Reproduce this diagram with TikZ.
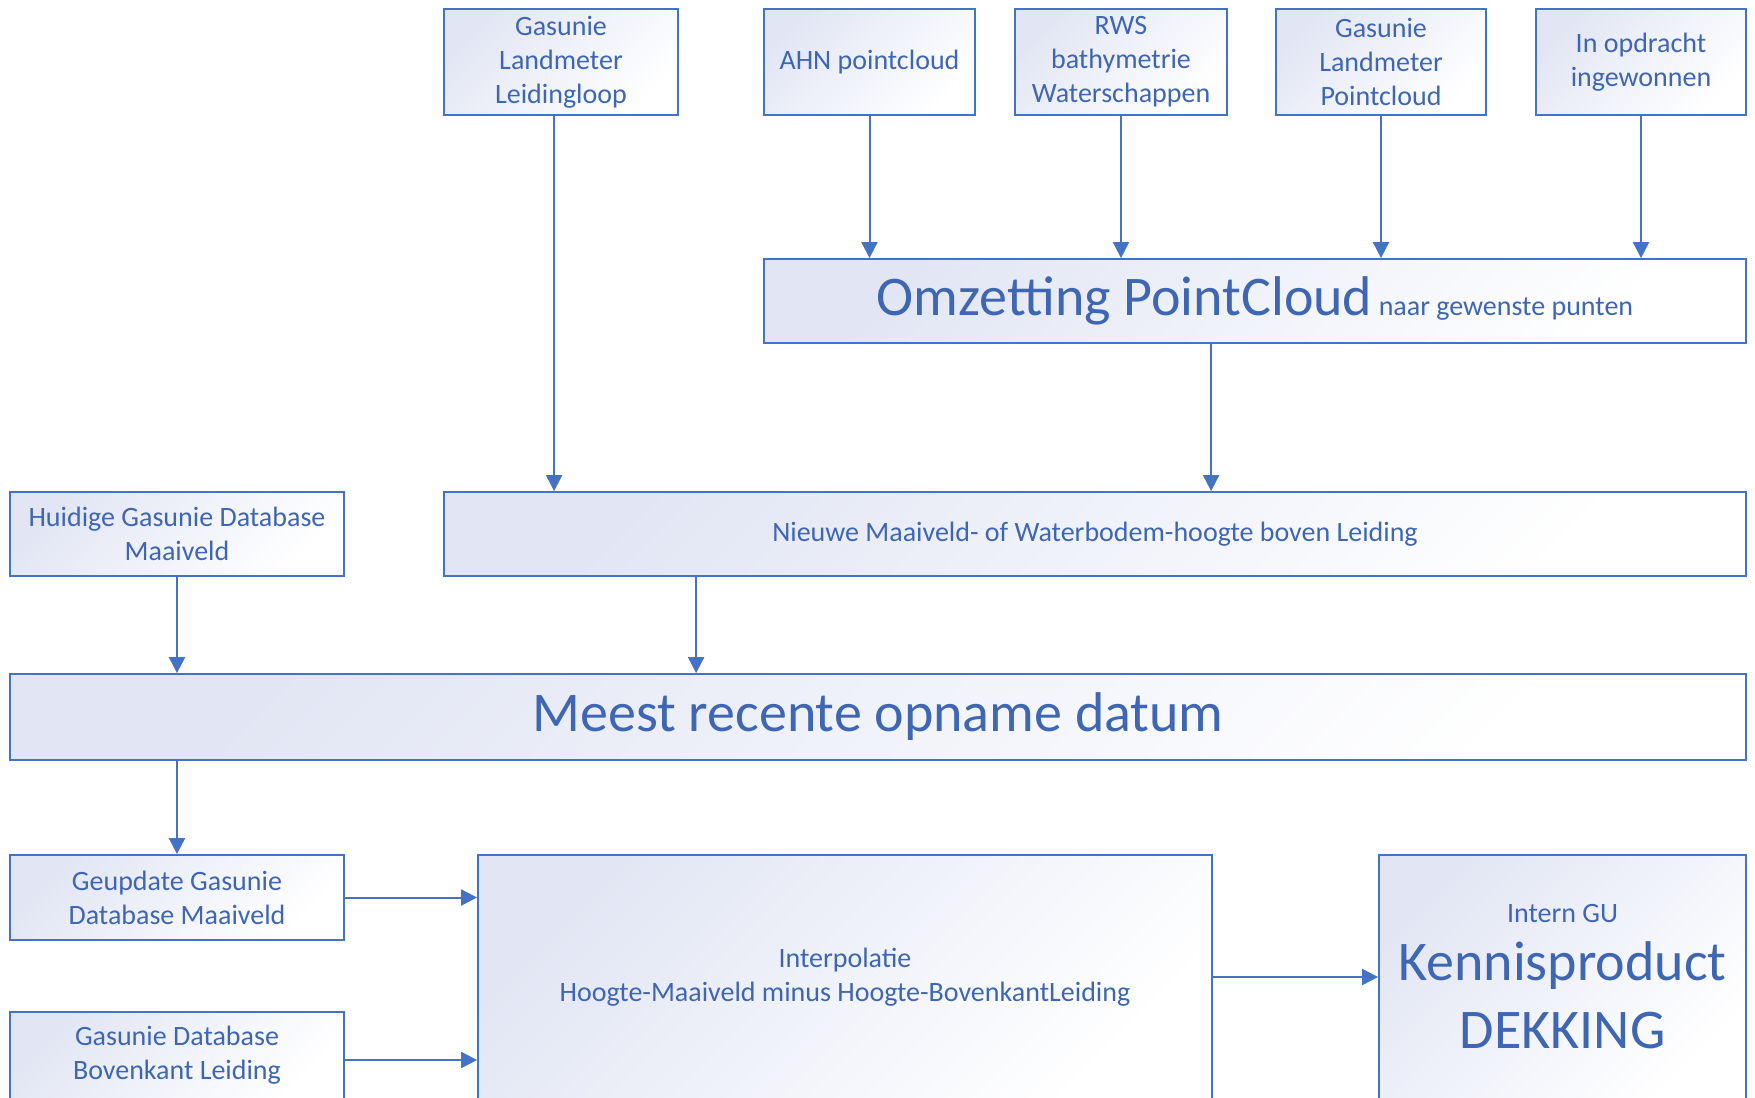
\documentclass[tikz,border=0pt]{standalone}
\usepackage{fontspec}
\setmainfont{Carlito}
\usetikzlibrary{arrows.meta}
\definecolor{lineblue}{RGB}{68,114,196}
\definecolor{textblue}{RGB}{62,102,178}
\definecolor{lav}{RGB}{226,230,244}
\tikzset{
  box/.style={draw=lineblue, line width=1.8pt, top color=lav, bottom color=white,
    shading angle=45, text=textblue, align=center, inner sep=0pt,
    font=\fontsize{28}{34}\selectfont},
  arr/.style={draw=lineblue, line width=2pt, -{Triangle[length=16pt,width=16pt]}},
  big/.style={font=\fontsize{56}{68}\selectfont}
}
\begin{document}
\begin{tikzpicture}[x=1pt,y=-1pt]
\useasboundingbox (0,0) rectangle (1755,1097);
\clip (0,0) rectangle (1755,1097);
\fill[white] (0,0) rectangle (1755,1097);
% top sources
\node[box, minimum width=234pt, minimum height=106pt] (A) at (561,62) {Gasunie\\Landmeter\\Leidingloop};
\node[box, minimum width=211pt, minimum height=106pt] (B) at (869.5,62) {AHN pointcloud};
\node[box, minimum width=212pt, minimum height=106pt] (C) at (1121,62) {RWS\\bathymetrie\\Waterschappen};
\node[box, minimum width=210pt, minimum height=106pt] (D) at (1381,62) {Gasunie\\Landmeter\\Pointcloud};
\node[box, minimum width=210pt, minimum height=106pt] (E) at (1641,62) {In opdracht\\ingewonnen};
% conversion
\node[box, minimum width=982pt, minimum height=84pt] (F) at (1255,301)
  {{\fontsize{56}{68}\selectfont Omzetting PointCloud}\ naar gewenste punten};
% new height
\node[box, minimum width=1302pt, minimum height=84pt] (G) at (1095,534) {Nieuwe Maaiveld- of Waterbodem-hoogte boven Leiding};
\node[box, minimum width=334pt, minimum height=84pt] (H) at (177,534) {Huidige Gasunie Database\\Maaiveld};
% most recent
\node[box, big, minimum width=1736pt, minimum height=86pt] (I) at (878,717) {Meest recente opname datum};
% bottom row
\node[box, minimum width=334pt, minimum height=85pt] (J) at (177,897.5) {Geupdate Gasunie\\Database Maaiveld};
\node[box, minimum width=334pt, minimum height=87pt] (K) at (177,1055.5) {Gasunie Database\\Bovenkant Leiding};
\node[box, minimum width=734pt, minimum height=244pt] (L) at (845,977) {Interpolatie\\Hoogte-Maaiveld minus Hoogte-BovenkantLeiding};
\node[box, big, minimum width=367pt, minimum height=244pt] (M) at (1562.5,977)
  {{\fontsize{28}{34}\selectfont Intern GU}\\[-10pt]Kennisproduct\\DEKKING};
% connectors
\draw[arr] ([xshift=111pt]A.south west) -- ([xshift=111pt]A.south west |- G.north);
\draw[arr] (B.south) -- (B.south |- F.north);
\draw[arr] (C.south) -- (C.south |- F.north);
\draw[arr] (D.south) -- (D.south |- F.north);
\draw[arr] (E.south) -- (E.south |- F.north);
\draw[arr] ([xshift=448pt]F.south west) -- ([xshift=448pt]F.south west |- G.north);
\draw[arr] (H.south) -- (H.south |- I.north);
\draw[arr] ([xshift=253pt]G.south west) -- ([xshift=253pt]G.south west |- I.north);
\draw[arr] (J.north |- I.south) -- (J.north);
\draw[arr] (J.east) -- (J.east -| L.west);
\draw[arr] ([yshift=-4.5pt]K.east) -- ([yshift=-4.5pt]K.east -| L.west);
\draw[arr] (L.east) -- (L.east -| M.west);
\end{tikzpicture}
\end{document}
